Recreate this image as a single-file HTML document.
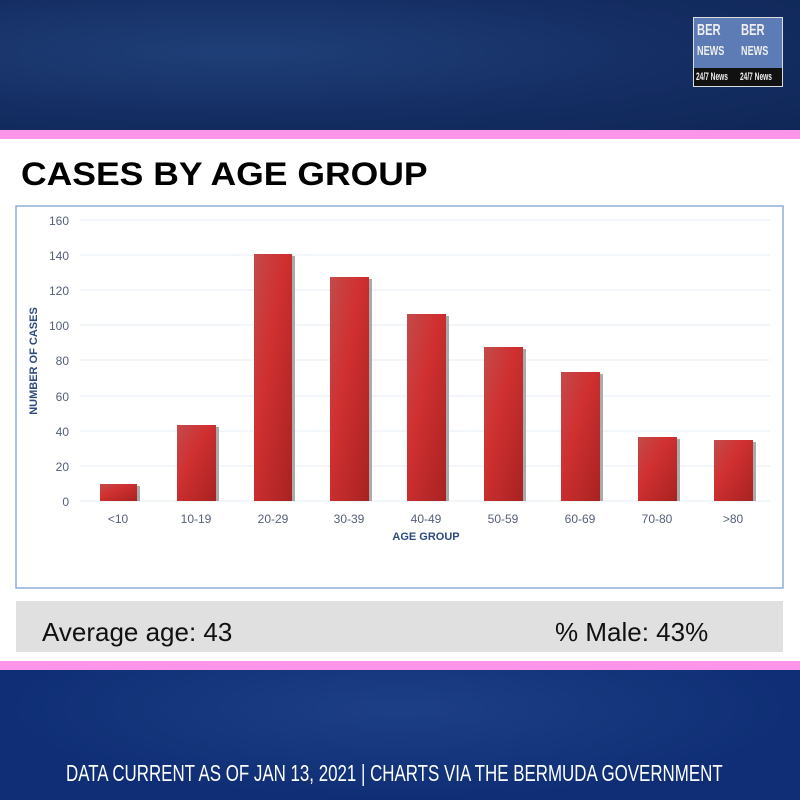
<!DOCTYPE html>
<html><head><meta charset="utf-8"><style>
body{margin:0;width:800px;height:800px;overflow:hidden;font-family:"Liberation Sans",sans-serif;position:relative;background:#fff}
.top{position:absolute;left:0;top:0;width:800px;height:130px;background:radial-gradient(ellipse at 30% 40%,#1f3f78,#142d62 60%,#0f2757)}
.pink{position:absolute;left:0;width:800px;height:9px;background:#fb95e9}
.bot{position:absolute;left:0;top:670px;width:800px;height:130px;background:radial-gradient(ellipse at 50% 30%,#1d3f85,#0f2e75 70%)}
.logo{position:absolute;left:693px;top:17px;width:88px;height:68px;background:#5d7cb6;border:1px solid #ddd}
.logo div{position:absolute;color:#eee;font-weight:bold;font-size:14px;transform:scaleX(.7);transform-origin:left;white-space:nowrap}
</style></head><body>
<div class="top"></div>
<div class="logo">
<div style="left:3px;top:4px;font-size:16px">BER</div><div style="left:47px;top:4px;font-size:16px">BER</div>
<div style="left:3px;top:25px;font-size:13px">NEWS</div><div style="left:47px;top:25px;font-size:13px">NEWS</div>
<div style="left:0;top:50px;width:88px;height:18px;background:#111;transform:none"></div>
<div style="left:2px;top:53px;font-size:11px;transform:scaleX(.6)">24/7 News</div><div style="left:46px;top:53px;font-size:11px;transform:scaleX(.6)">24/7 News</div>
</div>
<div class="pink" style="top:130px"></div>
<div style="position:absolute;left:21px;top:156px;font-size:32px;font-weight:bold;color:#000;white-space:nowrap;transform:scaleX(1.11);transform-origin:left">CASES BY AGE GROUP</div>
<svg style="position:absolute;left:0;top:0" width="800" height="800">
<defs><linearGradient id="g" x1="0" y1="0" x2="1" y2="1"><stop offset="0" stop-color="#c44a4a"/><stop offset=".4" stop-color="#d03030"/><stop offset="1" stop-color="#a82222"/></linearGradient></defs>
<rect x="16" y="206" width="767" height="382" fill="#fff" stroke="#8eaedc" stroke-width="1.5"/>
<g stroke="#e6ecf6" stroke-width="1">
<line x1="80" x2="770" y1="220" y2="220"/><line x1="80" x2="770" y1="255" y2="255"/><line x1="80" x2="770" y1="290" y2="290"/><line x1="80" x2="770" y1="325" y2="325"/><line x1="80" x2="770" y1="360" y2="360"/><line x1="80" x2="770" y1="396" y2="396"/><line x1="80" x2="770" y1="431" y2="431"/><line x1="80" x2="770" y1="466" y2="466"/><line x1="80" x2="770" y1="501" y2="501"/></g>
<g font-size="12" fill="#555f79" text-anchor="end">
<text x="69" y="225">160</text><text x="69" y="260">140</text><text x="69" y="295">120</text><text x="69" y="330">100</text><text x="69" y="365">80</text><text x="69" y="401">60</text><text x="69" y="436">40</text><text x="69" y="471">20</text><text x="69" y="506">0</text></g>
<text transform="translate(37,361) rotate(-90)" font-size="11" font-weight="bold" fill="#2d4a80" text-anchor="middle">NUMBER OF CASES</text>
<g fill="#aaa">
<rect x="137" y="486" width="3" height="15"/><rect x="216" y="427" width="3" height="74"/><rect x="292" y="256" width="3" height="245"/><rect x="369" y="279" width="3" height="222"/><rect x="446" y="316" width="3" height="185"/><rect x="523" y="349" width="3" height="152"/><rect x="600" y="374" width="3" height="127"/><rect x="677" y="439" width="3" height="62"/><rect x="753" y="442" width="3" height="59"/></g>
<g fill="url(#g)">
<rect x="100" y="484" width="37" height="17"/><rect x="177" y="425" width="39" height="76"/><rect x="254" y="254" width="38" height="247"/><rect x="330" y="277" width="39" height="224"/><rect x="407" y="314" width="39" height="187"/><rect x="484" y="347" width="39" height="154"/><rect x="561" y="372" width="39" height="129"/><rect x="638" y="437" width="39" height="64"/><rect x="714" y="440" width="39" height="61"/></g>
<g font-size="12" fill="#555f79" text-anchor="middle">
<text x="118" y="523">&lt;10</text><text x="196" y="523">10-19</text><text x="273" y="523">20-29</text><text x="349" y="523">30-39</text><text x="426" y="523">40-49</text><text x="503" y="523">50-59</text><text x="580" y="523">60-69</text><text x="657" y="523">70-80</text><text x="733" y="523">&gt;80</text></g>
<text x="426" y="540" font-size="11" font-weight="bold" fill="#2d4a80" text-anchor="middle">AGE GROUP</text>
<rect x="16" y="601" width="767" height="51" fill="#e0e0e0"/>
<text x="42" y="641" font-size="26" fill="#111">Average age: 43</text>
<text x="555" y="641" font-size="26" fill="#111">% Male: 43%</text>
</svg>
<div class="pink" style="top:661px"></div>
<div class="bot"></div>
<div style="position:absolute;left:66px;top:760px;font-size:23px;color:#fff;white-space:nowrap;transform:scaleX(.735);transform-origin:left">DATA CURRENT AS OF JAN 13, 2021 | CHARTS VIA THE BERMUDA GOVERNMENT</div>
</body></html>
